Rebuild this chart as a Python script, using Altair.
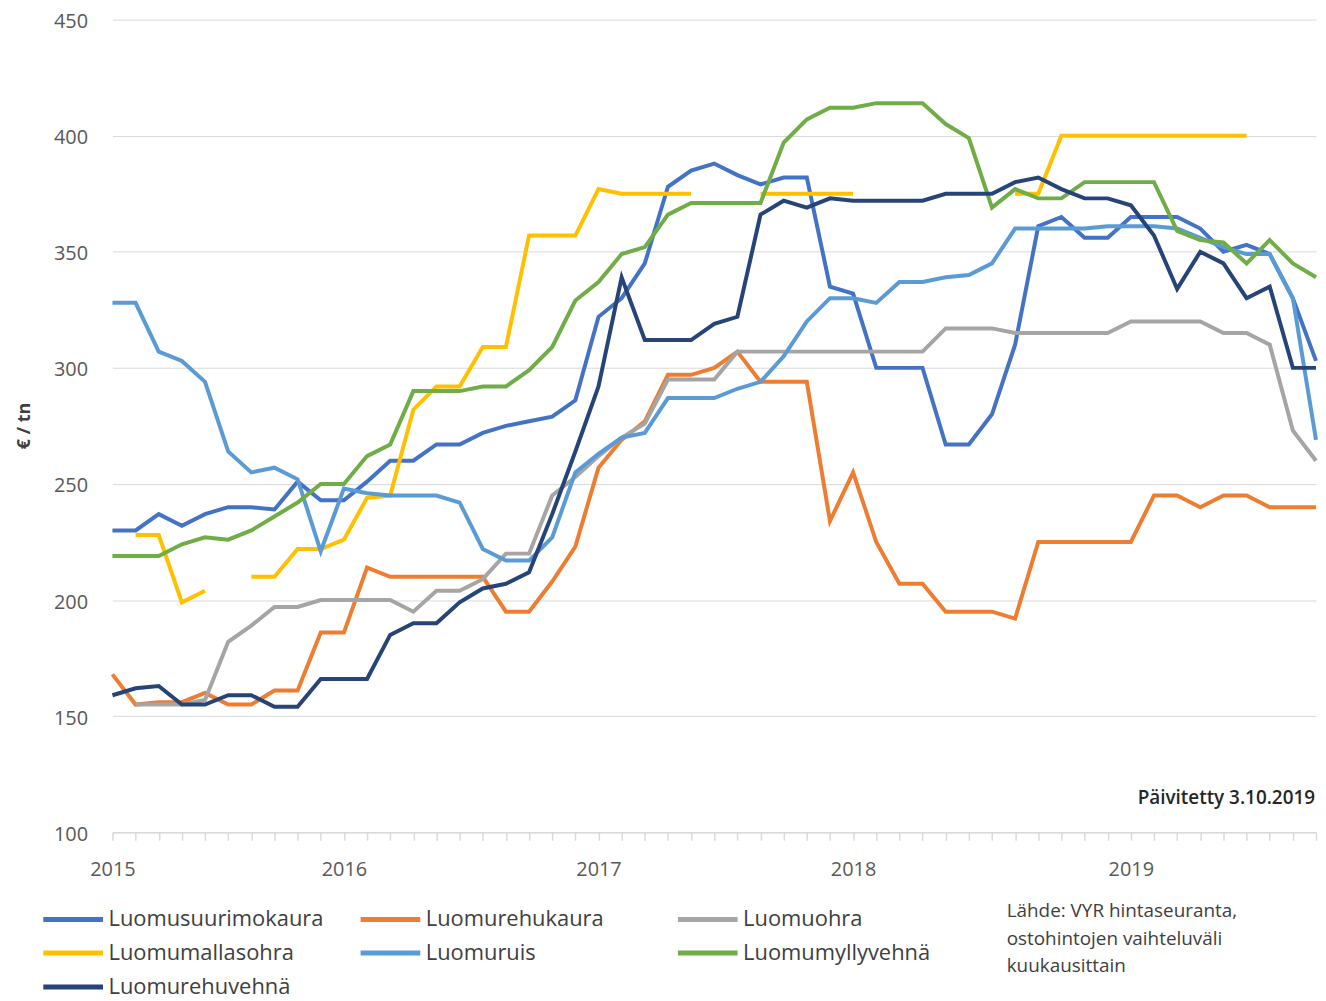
import altair as alt
import pandas as pd

# ---------------- data ----------------
months = list(range(53))
year_labels = ["2015", "2016", "2017", "2018", "2019"]
year_pos = [0, 10, 21, 32, 44]
y_ticks = [100, 150, 200, 250, 300, 350, 400, 450]

series_names = [
    "Luomusuurimokaura", "Luomurehukaura", "Luomuohra",
    "Luomumallasohra", "Luomuruis", "Luomumyllyvehnä", "Luomurehuvehnä",
]
series_colors = ["#4472C4", "#ED7D31", "#A5A5A5", "#FFC000", "#5B9BD5", "#70AD47", "#264478"]

suurimokaura = [230, 230, 237, 232, 237, 240, 240, 239, 251, 243,
                243, 251, 260, 260, 267, 267, 272, 275, 277, 279,
                286, 322, 330, 345, 378, 385, 388, 383, 379, 382,
                382, 335, 332, 300, 300, 300, 267, 267, 280, 310,
                361, 365, 356, 356, 365, 365, 365, 360, 350, 353,
                349, 330, 303]
rehukaura = [168, 155, 156, 156, 160, 155, 155, 161, 161, 186,
             186, 214, 210, 210, 210, 210, 210, 195, 195, 208,
             223, 257, 269, 277, 297, 297, 300, 307, 294, 294,
             294, 234, 255, 225, 207, 207, 195, 195, 195, 192,
             225, 225, 225, 225, 225, 245, 245, 240, 245, 245,
             240, 240, 240]
ohra = [None, 155, 155, 155, 157, 182, 189, 197, 197, 200,
        200, 200, 200, 195, 204, 204, 209, 220, 220, 245,
        253, 262, 270, 276, 295, 295, 295, 307, 307, 307,
        307, 307, 307, 307, 307, 307, 317, 317, 317, 315,
        315, 315, 315, 315, 320, 320, 320, 320, 315, 315,
        310, 273, 260]
mallasohra = [None, 228, 228, 199, 204, None, 210, 210, 222, 222,
              226, 244, 245, 282, 292, 292, 309, 309, 357, 357,
              357, 377, 375, 375, 375, 375, None, None, 375, 375,
              375, 375, 375, None, None, None, None, None, None, 375,
              375, 400, 400, 400, 400, 400, 400, 400, 400, 400,
              None, None, None]
ruis = [328, 328, 307, 303, 294, 264, 255, 257, 252, 221,
        248, 246, 245, 245, 245, 242, 222, 217, 217, 227,
        255, 263, 270, 272, 287, 287, 287, 291, 294, 305,
        320, 330, 330, 328, 337, 337, 339, 340, 345, 360,
        360, 360, 360, 361, 361, 361, 360, 356, 352, 349,
        349, 330, 269]
myllyvehna = [219, 219, 219, 224, 227, 226, 230, 236, 242, 250,
              250, 262, 267, 290, 290, 290, 292, 292, 299, 309,
              329, 337, 349, 352, 366, 371, 371, 371, 371, 397,
              407, 412, 412, 414, 414, 414, 405, 399, 369, 377,
              373, 373, 380, 380, 380, 380, 359, 355, 354, 345,
              355, 345, 339]
rehuvehna = [159, 162, 163, 155, 155, 159, 159, 154, 154, 166,
             166, 166, 185, 190, 190, 199, 205, 207, 212, 237,
             264, 292, 339, 312, 312, 312, 319, 322, 366, 372,
             369, 373, 372, 372, 372, 372, 375, 375, 375, 380,
             382, 377, 373, 373, 370, 357, 334, 350, 345, 330,
             335, 300, 300]

updated_note = "Päivitetty 3.10.2019"
source_note = "Lähde: VYR hintaseuranta,\nostohintojen vaihteluväli\nkuukausittain"

all_values = [suurimokaura, rehukaura, ohra, mallasohra, ruis, myllyvehna, rehuvehna]
rows = []
for k, (name, vals) in enumerate(zip(series_names, all_values)):
    for t, v in zip(months, vals):
        rows.append({"t": t, "price": v, "series": name, "k": k})
df = pd.DataFrame(rows)

FONT = "Open Sans"
label_expr = " : ".join(
    f"datum.value == {p} ? '{lab}'" for p, lab in zip(year_pos, year_labels)
) + " : ''"

x_enc = alt.X(
    "t:Q",
    scale=alt.Scale(domain=[0, 52], nice=False, zero=False),
    axis=alt.Axis(
        values=months, labelExpr=label_expr, title=None, grid=False,
        domainColor="#D9D9D9", domainWidth=1.5, tickColor="#D9D9D9",
        tickWidth=1.5, tickSize=8, labelFontSize=20, labelColor="#595959",
        labelFont=FONT, labelPadding=19, labelFlush=False, labelOverlap=False,
        labelBound=False,
    ),
)
y_enc = alt.Y(
    "price:Q",
    scale=alt.Scale(domain=[100, 450], nice=False, zero=False),
    axis=alt.Axis(
        values=y_ticks, title="€ / tn", grid=True, gridColor="#D9D9D9",
        gridWidth=1, domain=False, ticks=False, labelFontSize=20,
        labelColor="#595959", labelFont=FONT, labelPadding=25,
        labelOffset=2,
        titleFont=FONT, titleFontSize=18, titleFontWeight="bold",
        titleColor="#404040", titleX=-88, titleY=408, titleAngle=270,
        titleAlign="center", titleBaseline="middle",
    ),
)
color_enc = alt.Color(
    "series:N",
    sort=series_names,
    scale=alt.Scale(domain=series_names, range=series_colors),
    legend=alt.Legend(
        title=None, orient="none", legendX=-52, legendY=892, columns=3,
        direction="horizontal",
        symbolType="M-3,0H3", symbolSize=400, symbolStrokeWidth=5,
        symbolFillColor="transparent",
        labelFontSize=22, labelFont=FONT, labelColor="#404040",
        labelLimit=400, labelOffset=23, gridAlign="all", columnPadding=26,
        rowPadding=10, padding=0,
    ),
)

lines = alt.Chart(df).mark_line(
    strokeWidth=4, invalid="break-paths-show-domains"
).encode(x=x_enc, y=y_enc, color=color_enc, detail="series:N")

upd = alt.Chart(pd.DataFrame({"note": [updated_note]})).mark_text(
    align="right", baseline="middle", fontSize=19, font=FONT,
    fontWeight=600, color="#262626",
).encode(text="note:N", x=alt.value(1209), y=alt.value(783))

src = alt.Chart(pd.DataFrame({"note": [source_note]})).mark_text(
    align="left", baseline="top", fontSize=19, font=FONT,
    color="#404040", lineBreak="\n", lineHeight=28,
).encode(text="note:N", x=alt.value(899), y=alt.value(887))

chart = alt.layer(lines, upd, src).properties(
    width=1210, height=817,
    padding={"left": 105, "top": 9, "right": 2, "bottom": 165},
    autosize=alt.AutoSizeParams(type="none"),
    background="white",
).configure_view(strokeWidth=0)

chart.save("out.html", embed_options={"renderer": "svg", "actions": False})
